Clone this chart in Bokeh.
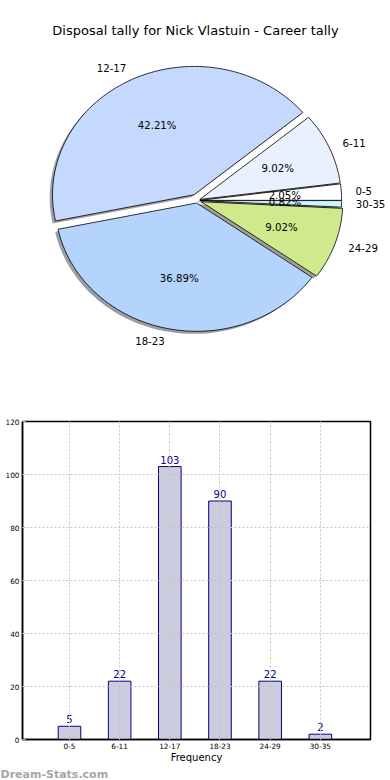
import numpy as np
from bokeh.plotting import figure
from bokeh.models import Range1d, FixedTicker, Title, ColumnDataSource
from bokeh.layouts import column
from bokeh.embed import file_html
from bokeh.resources import INLINE
from bokeh.core.properties import value

# ---------------- data ----------------
title_text = "Disposal tally for Nick Vlastuin - Career tally"
categories = ["0-5", "6-11", "12-17", "18-23", "24-29", "30-35"]
counts = [5, 22, 103, 90, 22, 2]
pie_colors = ["#ffffff", "#e9f0fe", "#c5d9fe", "#b4d4fe", "#cfe98c", "#ccf5ff"]
explode = [0.02, 0.02, 0.05, 0.02, 0.03, 0.02]
y_ticks = [0, 20, 40, 60, 80, 100, 120]
x_label = "Frequency"
watermark = "Dream-Stats.com"

FONT = "DejaVu Sans"
W = 390
PIE_H = 400
BAR_H = 380

# pie layout (pixel space of the pie panel, y up)
CX, CY = 196.7, 200.0
RX, RY = 141.6, 128.3

# ---------------- pie ----------------
total = float(sum(counts))
fracs = np.array(counts) / total
ends = np.cumsum(fracs) * 2 * np.pi
starts = ends - fracs * 2 * np.pi
mids = (starts + ends) / 2

xs, ys, sxs, sys_, shadow_cols = [], [], [], [], []
lab_x, lab_y, lab_align, pct_x, pct_y, pct_txt = [], [], [], [], [], []
for i in range(len(counts)):
    ox = explode[i] * np.cos(mids[i])
    oy = explode[i] * np.sin(mids[i])
    t = np.linspace(starts[i], ends[i], max(4, int(180 * fracs[i]) + 2))
    u = np.concatenate([[ox], ox + np.cos(t)])
    v = np.concatenate([[oy], oy + np.sin(t)])
    xs.append(list(CX + RX * u)); ys.append(list(CY + RY * v))
    sxs.append(list(CX + RX * (u - 0.02))); sys_.append(list(CY + RY * (v - 0.02)))
    c = pie_colors[i].lstrip("#")
    rgb = [int(c[k:k + 2], 16) for k in (0, 2, 4)]
    shadow_cols.append("#%02x%02x%02x" % tuple(int(0.3 * q) for q in rgb))
    lab_x.append(CX + RX * (ox + 1.1 * np.cos(mids[i])))
    lab_y.append(CY + RY * (oy + 1.1 * np.sin(mids[i])))
    lab_align.append("left" if np.cos(mids[i]) >= 0 else "right")
    pct_x.append(CX + RX * (ox + 0.6 * np.cos(mids[i])))
    pct_y.append(CY + RY * (oy + 0.6 * np.sin(mids[i])))
    pct_txt.append("%.2f%%" % (100 * fracs[i]))

p = figure(width=W, height=PIE_H, x_range=Range1d(0, W), y_range=Range1d(0, PIE_H),
           output_backend="svg", toolbar_location=None, x_axis_location=None, y_axis_location=None,
           min_border=0, match_aspect=False)
p.frame_align = False
p.grid.visible = False
p.outline_line_color = None
p.background_fill_color = "white"

p.patches(xs=sxs, ys=sys_, fill_color=shadow_cols, fill_alpha=0.5, line_color=None)
p.patches(xs=xs, ys=ys, fill_color=pie_colors, line_color="black", line_width=0.8)

src_lab = ColumnDataSource(dict(x=lab_x, y=lab_y, t=categories, a=lab_align))
p.text(x="x", y="y", text="t", text_align="a", text_baseline="middle", source=src_lab,
       text_font=value(FONT), text_font_size="10.2px", text_color="black")
p.text(x=pct_x, y=pct_y, text=pct_txt, text_align="center", text_baseline="middle",
       text_font=value(FONT), text_font_size="10.2px", text_color="black")
p.text(x=[195], y=[PIE_H - 30], text=[title_text], text_align="center", text_baseline="middle",
       text_font=value(FONT), text_font_size="13px", text_color="black")

# ---------------- bar ----------------
bx = list(range(len(categories)))
b = figure(width=W, height=BAR_H, x_range=Range1d(-0.936, 6), y_range=Range1d(0, 120),
           output_backend="svg", toolbar_location=None,
           min_border_left=22, min_border_right=20, min_border_top=21, min_border_bottom=40)
b.frame_align = False
b.outline_line_color = "black"
b.outline_line_width = 1.5
b.vbar(x=bx, top=counts, width=0.45, fill_color="#ccccdf", line_color="#000080", line_width=1)
b.text(x=bx, y=counts, text=[str(c) for c in counts], text_align="center", text_baseline="bottom",
       y_offset=-3, text_font=value(FONT), text_font_size="10px", text_color="#000080")

for ax in b.xaxis:
    ax.ticker = FixedTicker(ticks=bx)
    ax.major_label_overrides = {i: c for i, c in enumerate(categories)}
    ax.axis_label = x_label
    ax.axis_label_text_font = FONT
    ax.axis_label_text_font_size = "10px"
    ax.axis_label_text_font_style = "normal"
    ax.axis_label_text_color = "black"
    ax.axis_label_standoff = 0
for ax in b.yaxis:
    ax.ticker = FixedTicker(ticks=y_ticks)
for ax in list(b.xaxis) + list(b.yaxis):
    ax.major_label_text_font = FONT
    ax.major_label_text_font_size = "7.3px"
    ax.major_label_text_color = "black"
    ax.major_label_standoff = 3
    ax.major_tick_in = 3
    ax.major_tick_out = 0
    ax.major_tick_line_color = "#bbbbbb"
    ax.minor_tick_line_color = None
    ax.axis_line_color = "black"
    ax.axis_line_width = 1.5

b.xgrid.ticker = FixedTicker(ticks=bx)
b.ygrid.ticker = FixedTicker(ticks=y_ticks)
b.grid.grid_line_color = "#c4c4c4"
b.grid.grid_line_dash = "2 2"
b.grid.grid_line_width = 1
b.grid.level = "annotation"

b.add_layout(Title(text=watermark, align="left", offset=-22, standoff=0,
                   text_font=FONT, text_font_size="11px", text_font_style="bold",
                   text_color="#a6a6a6"), "below")

layout = column(p, b)
open("out.html", "w").write(file_html(layout, INLINE))
